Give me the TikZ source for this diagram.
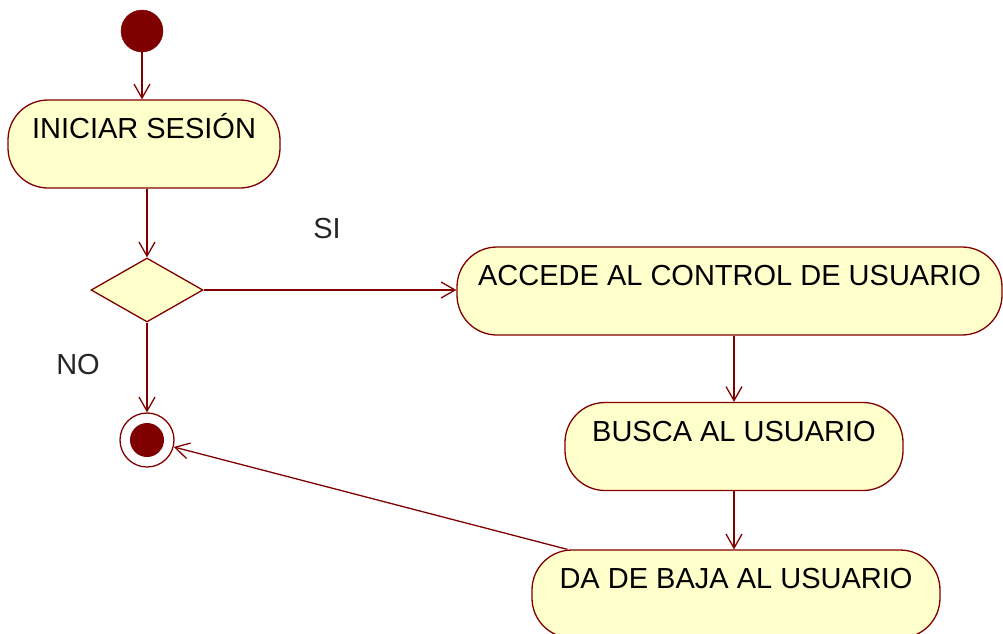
\documentclass[tikz,border=0pt]{standalone}
\usepackage{fontspec}
\setmainfont{Liberation Sans}
\usetikzlibrary{shapes.geometric,arrows.meta,calc}
\definecolor{umlred}{RGB}{128,0,0}
\definecolor{umlfill}{RGB}{255,255,204}
\begin{document}
\begin{tikzpicture}[x=1pt,y=-1pt,
  act/.style={draw=umlred, fill=umlfill, line width=1.3pt, rounded corners=40pt,
    minimum height=88pt, inner sep=0pt, text height=21pt, text depth=32pt,
    font=\fontsize{29}{33}\selectfont},
  lbl/.style={inner sep=0pt, font=\fontsize{29}{33}\selectfont, text=black!85},
  dec/.style={draw=umlred, fill=umlfill, line width=1.3pt, shape=diamond,
    minimum width=112pt, minimum height=64pt, inner sep=0pt},
  startst/.style={circle, fill=umlred, draw=umlred, minimum size=42pt, inner sep=0pt},
  endst/.style={circle, draw=umlred, fill=white, line width=1.3pt, minimum size=54pt, inner sep=0pt},
  arr/.style={draw=umlred, line width=1.3pt, -{Straight Barb[length=14pt,width=16pt]}}
]
\useasboundingbox (0,0) rectangle (1003,633);

\node[startst] (start) at (142,31) {};
\node[act, minimum width=272pt] (ini) at (144,144) {INICIAR SESIÓN};
\node[dec] (d) at (147,290) {};
\node[act, minimum width=545pt] (acc) at (729.5,291) {ACCEDE AL CONTROL DE USUARIO};
\node[act, minimum width=338pt] (bus) at (734,446.5) {BUSCA AL USUARIO};
\node[act, minimum width=408pt] (da) at (736,594) {DA DE BAJA AL USUARIO};
\node[endst] (end) at (147,440) {};
\fill[umlred] (end.center) circle[radius=17pt];

\node[lbl] (si) at (327,229) {SI};
\node[lbl] (no) at (78,365) {NO};

\coordinate (dacorner) at ($(da.north west)+(36,0)$);

\draw[arr] (start.south) -- (start.south |- ini.north);
\draw[arr] (d.north |- ini.south) -- (d.north);
\draw[arr] (d.east) -- (d.east -| acc.west);
\draw[arr] (d.south) -- (end.north);
\draw[arr] (bus.north |- acc.south) -- (bus.north);
\draw[arr] (bus.south) -- (bus.south |- da.north);
\draw[arr] (dacorner) -- (end);
\end{tikzpicture}
\end{document}
